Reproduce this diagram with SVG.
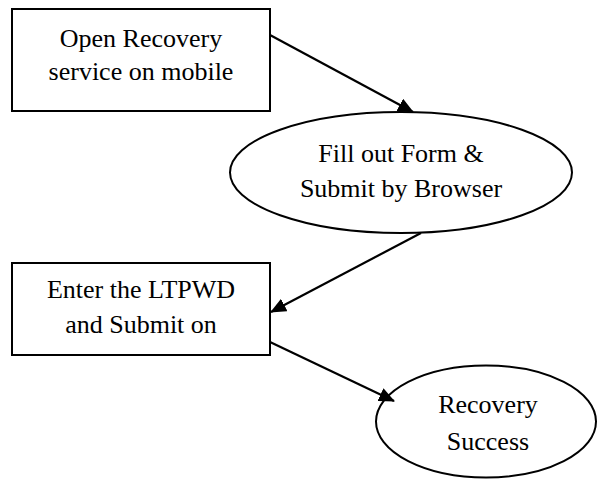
<svg xmlns="http://www.w3.org/2000/svg" width="597" height="479" viewBox="0 0 597 479">
<style>
.box{fill:#fff;stroke:#000;stroke-width:2}
.ell{fill:#fff;stroke:#000;stroke-width:2}
.t{font-family:"Liberation Serif","Times New Roman",serif;font-size:26px;fill:#000;text-anchor:middle}
.c{stroke:#000;stroke-width:2.2;fill:none}
</style>
<defs>
<marker id="ah" markerUnits="userSpaceOnUse" markerWidth="16" markerHeight="14" viewBox="0 0 16 14" refX="15" refY="7" orient="auto">
<path d="M0,0 L16,7 L0,14 Z" fill="#000"/>
</marker>
</defs>
<rect width="597" height="479" fill="#fff"/>
<g id="n1">
<rect class="box" x="12" y="9" width="258" height="102"/>
<text class="t" x="141" y="47">Open Recovery</text>
<text class="t" x="141" y="80">service on mobile</text>
</g>
<g id="n2">
<ellipse class="ell" cx="401" cy="172.5" rx="171" ry="60.5"/>
<text class="t" x="401" y="162">Fill out Form &amp;</text>
<text class="t" x="401" y="197">Submit by Browser</text>
</g>
<g id="n3">
<rect class="box" x="12" y="263" width="258" height="92"/>
<text class="t" x="141" y="298">Enter the LTPWD</text>
<text class="t" x="141" y="333">and Submit on</text>
</g>
<g id="n4">
<ellipse class="ell" cx="486" cy="421.5" rx="110" ry="56"/>
<text class="t" x="488" y="413">Recovery</text>
<text class="t" x="488" y="450">Success</text>
</g>
<g id="connectors">
<line class="c" x1="270" y1="35" x2="413" y2="112" marker-end="url(#ah)"/>
<line class="c" x1="421" y1="233" x2="271" y2="312" marker-end="url(#ah)"/>
<line class="c" x1="270" y1="342" x2="394" y2="401" marker-end="url(#ah)"/>
</g>
</svg>
